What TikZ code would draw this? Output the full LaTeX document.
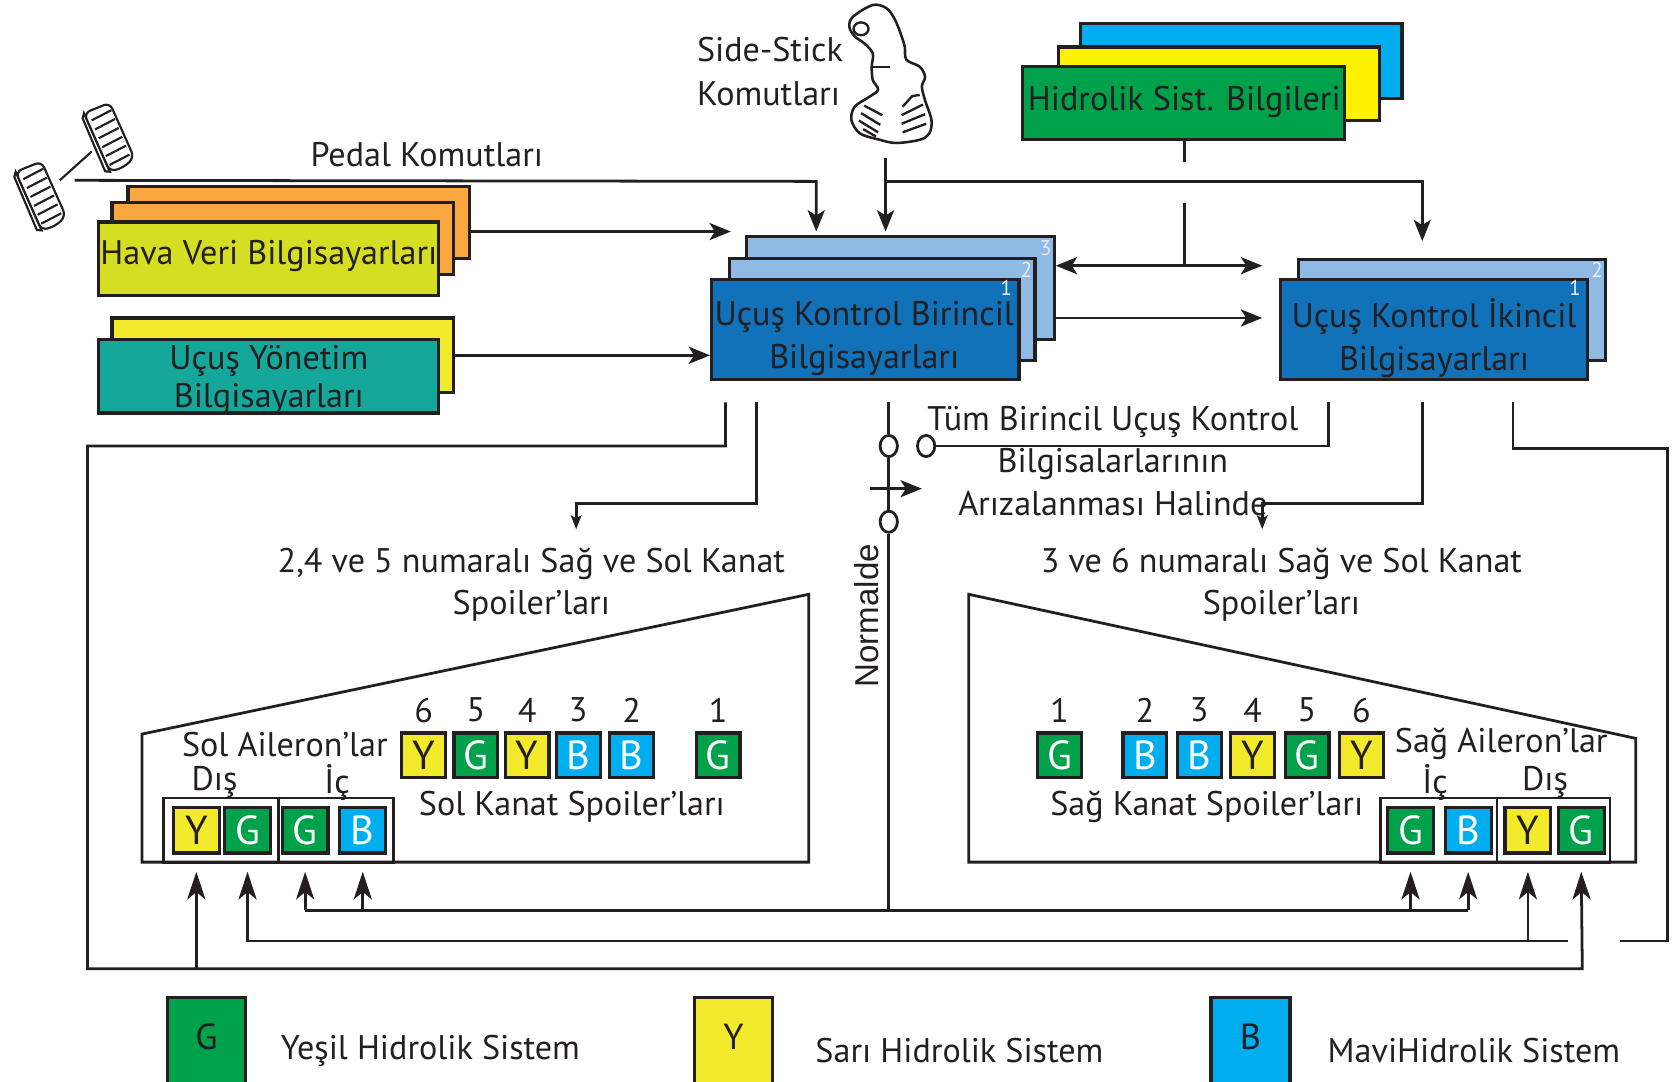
\documentclass[tikz,border=0pt]{standalone}
\usepackage{fontspec}
\setmainfont{PT Sans}
\newfontfamily\helv{Liberation Sans}
\usetikzlibrary{arrows.meta,fit,calc}

\definecolor{ink}{HTML}{231F20}
\definecolor{cLime}{HTML}{D6DE23}
\definecolor{cOrange}{HTML}{F9A73E}
\definecolor{cYel}{HTML}{F2EA2D}
\definecolor{cTeal}{HTML}{14A79A}
\definecolor{cBlue}{HTML}{1171B9}
\definecolor{cLBlue}{HTML}{8EBAE3}
\definecolor{cG}{HTML}{00A14B}
\definecolor{cY}{HTML}{F2EA2B}
\definecolor{cB}{HTML}{00AEEF}
\definecolor{cHY}{HTML}{FFF200}
\definecolor{cTag}{HTML}{E6EEF8}

\begin{document}
\begin{tikzpicture}[x=0.5pt,y=-0.5pt,color=ink,line width=1.3pt,
  font=\fontsize{16}{20}\selectfont,
  box/.style={draw=ink,line width=1.5pt,inner sep=0pt},
  lbl/.style={align=center,inner sep=0pt},
  sq/.style={draw=ink,line width=1.5pt,minimum width=20.5pt,minimum height=21pt,
    inner sep=0pt,font=\fontsize{19}{19}\selectfont},
  sqY/.style={sq,fill=cY,text=ink},
  sqG/.style={sq,fill=cG,text=white},
  sqB/.style={sq,fill=cB,text=white},
  asq/.style={sq,minimum width=21.5pt,minimum height=21.5pt},
  frm/.style={draw=ink,line width=1.3pt,inner sep=0pt},
  num/.style={inner sep=0pt,font=\fontsize{16}{16}\selectfont},
  tag/.style={inner sep=0pt,text=cTag,font=\fontsize{10}{10}\selectfont},
  lgd/.style={draw=ink,line width=1.5pt,inner sep=0pt},
  swc/.style={circle,draw,line width=1.3pt,minimum size=9pt,inner sep=0pt,xscale=0.9,yscale=1.1},
  arr/.style={-{Stealth[length=10pt,width=8pt,inset=2.5pt]}},
  darr/.style={{Stealth[length=10pt,width=8pt,inset=2.5pt]}-{Stealth[length=10pt,width=8pt,inset=2.5pt]}},
  sarr/.style={-{Stealth[length=6.5pt,width=5pt,inset=1.5pt]}},
  uarr/.style={-{Stealth[length=13pt,width=8.5pt,inset=3.5pt]}}]

\useasboundingbox (0,0) rectangle (1568,1014);

% ---------- pedals ----------
\begin{scope}[shift={(102,129)},rotate=22,line width=1pt]
  \draw[fill=white] (-16,-26) -- (-13,-30) -- (-11,30) -- (-15,28) -- cycle;
  \draw[fill=white,rounded corners=3pt] (-13,-30) -- (13,-30) -- (15,26) -- (3,31) -- (-11,30) -- cycle;
  \foreach \t in {-21,-12,-3,6,15,24} \draw (-9,\t) -- (12,\t-2);
\end{scope}
\begin{scope}[shift={(38,184)},rotate=22,line width=1pt]
  \draw[fill=white] (-16,-26) -- (-13,-30) -- (-11,30) -- (-15,28) -- cycle;
  \draw[fill=white,rounded corners=3pt] (-13,-30) -- (13,-30) -- (15,26) -- (3,31) -- (-11,30) -- cycle;
  \foreach \t in {-21,-12,-3,6,15,24} \draw (-9,\t) -- (12,\t-2);
\end{scope}
\coordinate (pedL) at (56,169);
\coordinate (pedR) at (86,142);
\draw[line width=1pt] (pedL) -- (pedR);

% ---------- side stick ----------
\draw[line width=1.2pt,fill=white] plot[smooth cycle,tension=0.55] coordinates {
  (799.5,15.6) (818,4.7) (831,7.8) (839,18.8) (845,34) (848,44) (849.5,56)
  (862,62.5) (867,72) (864,81) (867,94) (873,112.5) (871,125) (862,131)
  (840,134) (824.5,131) (806,125) (798,112.5) (801,100) (815,90.6) (823,84)
  (818,75) (817,62.5) (818,50) (810,40.6) (801,34) (796,25)};
\draw[line width=1.1pt] (807,27) ellipse [x radius=7,y radius=6];
\draw[line width=1.1pt] (818,62.5) -- (834,62.5);
\draw[line width=1.1pt] (810,99) -- (827,108) (807,106) -- (825,117) (805,113) -- (823,124) (809,121) -- (821,128);
\draw[line width=1.1pt] (846,100) -- (855,90) -- (862,89) (845,108) -- (865,98) (845,116) -- (867,107) (846,124) -- (868,116);

% ---------- input computers ----------
\node[box,fill=cOrange,fit={(120,175)(440,242)}] (hv3) {};
\node[box,fill=cOrange,fit={(105,190)(425,257)}] (hv2) {};
\node[box,fill=cLime,fit={(92,208)(411,277)}] (hv1) {};
\node[lbl] at (252,240) {Hava Veri Bilgisayarları};

\node[box,fill=cYel,fit={(105,298)(425,368)}] (uy2) {};
\node[box,fill=cTeal,fit={(92,318)(411,387)}] (uy1) {};
\begin{scope}
  \clip (92,318) rectangle (411,387);
  \node[lbl] at (252,356) {Uçuş Yönetim\\[-2pt]Bilgisayarları};
\end{scope}

\node[box,fill=cLBlue,fit={(700,222)(988,318)}] (bk3) {};
\node[box,fill=cLBlue,fit={(684,242)(970,338)}] (bk2) {};
\node[box,fill=cBlue,fit={(667,262)(955,356)}] (bk1) {};
\node[lbl] at (810,317) {Uçuş Kontrol Birincil\\Bilgisayarları};
\node[tag] at (980,233) {3};
\node[tag] at (962,253) {2};
\node[tag] at (943,270) {1};

\node[box,fill=cLBlue,fit={(1217,243)(1505,338)}] (ik2) {};
\node[box,fill=cBlue,fit={(1200,262)(1488,356)}] (ik1) {};
\node[lbl] at (1344,317) {Uçuş Kontrol İkincil\\Bilgisayarları};
\node[tag] at (1497,253) {2};
\node[tag] at (1476,270) {1};

\node[box,fill=cB,fit={(1013,22)(1314,92)}] (hy3) {};
\node[box,fill=cHY,fit={(992,44)(1293,113)}] (hy2) {};
\node[box,fill=cG,fit={(958,62)(1260,131)}] (hy1) {};
\node[lbl] at (1110,96) {Hidrolik Sist. Bilgileri};

% ---------- labels ----------
\node[lbl] (pedT) at (400,145) {Pedal Komutları};
\node[lbl,align=left,anchor=west] (stT) at (652,67) {Side-Stick\\[1pt]Komutları};
\node[lbl] (failT) at (1043,432) {Tüm Birincil Uçuş Kontrol\\Bilgisalarlarının\\Arızalanması Halinde};
\node[lbl] (lsT) at (498,548) {2,4 ve 5 numaralı Sağ ve Sol Kanat\\Spoiler’ları};
\node[lbl] (rsT) at (1201,548) {3 ve 6 numaralı Sağ ve Sol Kanat\\Spoiler’ları};
\node[inner sep=0pt,rotate=90,font=\helv\fontsize{15.5}{16}\selectfont] (normT) at (812,577) {Normalde};

% ---------- wings ----------
\draw (133,688) -- (758,557) -- (758,808) -- (133,808) -- cycle;
\draw (908,557) -- (1533,692) -- (1533,808) -- (908,808) -- cycle;

% left wing spoilers
\foreach \n/\x/\s/\c in {l6/397/sqY/Y, l5/446/sqG/G, l4/494/sqY/Y, l3/542/sqB/B, l2/592/sqB/B, l1/673/sqG/G}
  \node[\s] (\n) at (\x,708) {\c};
\foreach \n/\t in {l6/6,l5/5,l4/4,l3/3,l2/2,l1/1}
  \node[num] at ($(\n.north)+(0,-20)$) {\t};
\node[lbl] at (536,756) {Sol Kanat Spoiler’ları};

% left ailerons
\node[frm,fit={(153,748)(261,808)}] (lfo) {};
\node[frm,fit={(261,748)(369,808)}] (lfi) {};
\node[asq,fill=cY,text=ink] (lay) at (184,778) {Y};
\node[asq,fill=cG,text=white] (lag) at (232,778) {G};
\node[asq,fill=cG,text=white] (lig) at (286,778) {G};
\node[asq,fill=cB,text=white] (lib) at (340,778) {B};
\node[lbl] at (267,698) {Sol Aileron’lar};
\node[lbl] at (201,733) {Dış};
\node[lbl] at (316,733) {İç};

% right wing spoilers
\foreach \n/\x/\s/\c in {r1/993/sqG/G, r2/1073/sqB/B, r3/1124/sqB/B, r4/1174/sqY/Y, r5/1225/sqG/G, r6/1276/sqY/Y}
  \node[\s] (\n) at (\x,708) {\c};
\foreach \n/\t in {r1/1,r2/2,r3/3,r4/4,r5/5,r6/6}
  \node[num] at ($(\n.north)+(0,-20)$) {\t};
\node[lbl] at (1131,756) {Sağ Kanat Spoiler’ları};

% right ailerons
\node[frm,fit={(1294,748)(1403,808)}] (rfi) {};
\node[frm,fit={(1403,748)(1509,808)}] (rfo) {};
\node[asq,fill=cG,text=white] (rig) at (1322,778) {G};
\node[asq,fill=cB,text=white] (rib) at (1376,778) {B};
\node[asq,fill=cY,text=ink] (ray) at (1432,778) {Y};
\node[asq,fill=cG,text=white] (rag) at (1482,778) {G};
\node[lbl] at (1407,697) {Sağ Aileron’lar};
\node[lbl] at (1345,733) {İç};
\node[lbl] at (1448,733) {Dış};

% ---------- command inputs ----------
\coordinate (pedX) at (765,170);
\coordinate (stkX) at (830,170);
\coordinate (hvIn) at (685,217);
\coordinate (pedIn) at (765,217);
\coordinate (stkTop) at (830,148);
\coordinate (stkIn) at (830,217);
\coordinate (ikIn) at (1333,226);
\draw[arr] (pedL -| 70,0) -- (pedX) -- (pedIn);
\draw[arr] (stkTop) -- (stkIn);
\draw[arr] (stkX) -| (ikIn);
\draw[arr] (hv3.east |- hvIn) -- (hvIn);
\draw[arr] (uy2.east |- 0,333) -- (bk1.west |- 0,333);

% hydraulic information, broken where it crosses the command line
\coordinate (hyA) at (1110,152);
\coordinate (hyB) at (1110,190);
\coordinate (hyJ) at (1110,249);
\coordinate (hyR) at (1183,249);
\coordinate (bkR) at (1183,298);
\draw (hy1.south -| hyA) -- (hyA);
\draw (hyB) -- (hyJ);
\draw[darr] (bk3.east |- hyJ) -- (hyR);
\draw[arr] (bk3.east |- bkR) -- (bkR);

% ---------- primary computer outputs ----------
\coordinate (p1) at (680,377);
\coordinate (p2) at (709,377);
\coordinate (p3) at (833,377);
\coordinate (s1) at (1245,377);
\coordinate (s2) at (1333,377);
\coordinate (s3) at (1418,377);

% outer aileron feed from the primary computers
\draw[uarr] (p1) |- (82,418) |- (1483,908) -- ($(rag.south)+(0,16)$);
\draw[uarr] (lay.south |- 0,908) -- ($(lay.south)+(0,16)$);

% spoilers 2,4,5
\draw[sarr] (p2) |- (540,472) -- ($(lsT.north -| 540,0)+(0,-16)$);

% switch: normal / failure path
\node[swc] (swA) at (833,418) {};
\node[swc] (swB) at (868,418) {};
\node[swc] (swC) at (833,489) {};
\draw (p3) -- (swA.north);
\draw (swA.south) -- (swC.north);
\draw (swB.east) -| (s1);
\coordinate (swArrL) at (815,458);
\coordinate (swArrR) at (864,458);
\draw[arr] (swArrL) -- (swArrR);
\coordinate (busN) at (833,853);
\draw (swC.south) -- (busN);
\draw[uarr] (lig.south |- busN) -- ($(lig.south)+(0,16)$);
\draw[uarr] (lib.south |- busN) -- ($(lib.south)+(0,16)$);
\draw[uarr] (rig.south |- busN) -- ($(rig.south)+(0,16)$);
\draw[uarr] (rib.south |- busN) -- ($(rib.south)+(0,16)$);
\draw (lig.south |- busN) -- (rib.south |- busN);

% ---------- secondary computer outputs ----------
\draw[sarr] (s2) |- (1183,472) -- ($(rsT.north -| 1183,0)+(0,-16)$);
\coordinate (jmpR) at (1518,882);
\coordinate (jmpL) at (1470,882);
\draw (s3) |- (1563,420) |- (jmpR);
\draw[uarr] (jmpL) -| ($(lag.south)+(0,16)$);
\draw[uarr] (ray.south |- jmpL) -- ($(ray.south)+(0,16)$);

% ---------- legend ----------
\node[lgd,fill=cG,fit={(157,935)(230,1040)}] (lgG) {};
\node[lgd,fill=cY,fit={(651,935)(724,1040)}] (lgY) {};
\node[lgd,fill=cB,fit={(1135,935)(1209,1040)}] (lgB) {};
\node[inner sep=0pt,font=\fontsize{17}{17}\selectfont] at (193.5,972) {G};
\node[inner sep=0pt,font=\fontsize{17}{17}\selectfont] at (687.5,972) {Y};
\node[inner sep=0pt,font=\fontsize{17}{17}\selectfont] at (1172,972) {B};
\node[lbl,anchor=west] at (262,985) {Yeşil Hidrolik Sistem};
\node[lbl,anchor=west] at (763,985) {Sarı Hidrolik Sistem};
\node[lbl,anchor=west] at (1243,985) {MaviHidrolik Sistem};
\end{tikzpicture}
\end{document}
